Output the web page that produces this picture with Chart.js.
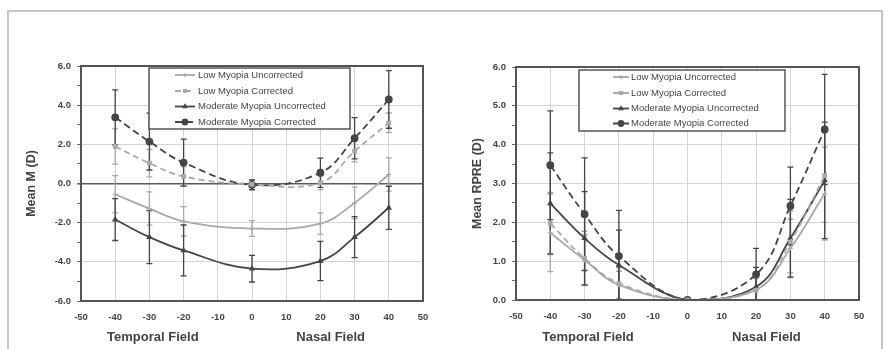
<!DOCTYPE html>
<html>
<head>
<meta charset="utf-8">
<script src="https://cdn.jsdelivr.net/npm/chart.js@4.4.1/dist/chart.umd.min.js"></script>
<style>
  html, body { margin: 0; padding: 0; background: #fff; }
  #page { position: relative; width: 887px; height: 349px; overflow: hidden; }
  #frame { position: absolute; left: 7px; top: 10px; width: 876px; height: 360px; border: 2px solid #c6c6c6; box-sizing: border-box; }
  .box { position: absolute; top: 0; height: 349px; }
</style>
</head>
<body>
<div id="page">
  <div id="frame"></div>
  <div class="box" style="left:0;width:445px"><canvas id="m_chart"></canvas></div>
  <div class="box" style="left:445px;width:442px"><canvas id="rpre_chart"></canvas></div>
</div>
<script>
// field angle (deg), temporal negative / nasal positive
const fieldAngles = [-40, -30, -20, 0, 20, 30, 40];
const xRange = [-50, 50];
const seriesLabels = [
  "Low Myopia Uncorrected",
  "Low Myopia Corrected",
  "Moderate Myopia Uncorrected",
  "Moderate Myopia Corrected",
];
const fieldLabels = ["Temporal Field", "Nasal Field"];
const fieldLabelAt = [-29, 23];

// left panel : Mean M (D)
const mLowUnc = [-0.55, -1.28, -1.93, -2.3, -2.05, -0.99, 0.46];
const mLowUncSd = [0.95, 0.85, 0.75, 0.4, 0.55, 0.8, 0.85];
const mLowCor = [1.89, 1.04, 0.36, -0.05, 0.04, 1.65, 3.1];
const mLowCorSd = [0.9, 0.7, 0.5, 0.25, 0.35, 0.55, 0.5];
const mModUnc = [-1.84, -2.74, -3.42, -4.35, -3.96, -2.74, -1.24];
const mModUncSd = [1.07, 1.35, 1.3, 0.68, 1.0, 1.05, 1.1];
const mModCor = [3.38, 2.14, 1.07, -0.07, 0.55, 2.31, 4.29];
const mModCorSd = [1.4, 1.45, 1.2, 0.25, 0.75, 1.05, 1.47];

// right panel : Mean RPRE (D)
const rLowUnc = [1.73, 1.03, 0.39, 0, 0.26, 1.33, 2.74];
const rLowUncSd = [1.0, 0.65, 0.35, 0, 0.3, 0.75, 1.2];
const rLowCor = [1.97, 1.07, 0.43, 0, 0.25, 1.5, 3.2];
const rLowCorSd = [0.8, 0.7, 0.4, 0, 0.3, 0.8, 1.2];
const rModUnc = [2.49, 1.59, 0.9, 0, 0.34, 1.59, 3.08];
const rModUncSd = [1.3, 1.2, 0.9, 0, 0.5, 1.0, 1.5];
const rModCor = [3.47, 2.21, 1.13, 0, 0.66, 2.42, 4.39];
const rModCorSd = [1.4, 1.45, 1.18, 0, 0.67, 1.0, 1.42];

Chart.defaults.font.family = "'Liberation Sans', Arial, sans-serif";
Chart.defaults.color = "#444";

const seriesStyles = [
  { color: "#a9a9a9", dash: [], point: "cross", radius: 2.5 },
  { color: "#a9a9a9", dash: [6, 4], point: "rect", radius: 2.5 },
  { color: "#454545", dash: [], point: "triangle", radius: 2.5 },
  { color: "#454545", dash: [7, 4], point: "circle", radius: 3.3 },
];

const makeDatasets = (values, sds) =>
  values.map((vals, i) => ({
    label: seriesLabels[i],
    data: vals.map((v, j) => ({ x: fieldAngles[j], y: v })),
    sd: sds[i],
    borderColor: seriesStyles[i].color,
    backgroundColor: seriesStyles[i].color,
    borderDash: seriesStyles[i].dash,
    borderWidth: 1.8,
    pointStyle: seriesStyles[i].point,
    pointRadius: seriesStyles[i].radius,
    pointBorderWidth: 1.2,
    tension: 0.4,
  }));

const errorBars = {
  id: "errorBars",
  beforeDatasetsDraw(chart) {
    const { ctx, chartArea: a, scales } = chart;
    ctx.save();
    ctx.beginPath();
    ctx.rect(a.left, a.top, a.right - a.left, a.bottom - a.top);
    ctx.clip();
    chart.data.datasets.forEach((ds) => {
      ctx.strokeStyle = ds.borderColor;
      ctx.lineWidth = 1.3;
      ctx.setLineDash([]);
      ds.data.forEach((p, i) => {
        const s = ds.sd[i];
        if (!s) return;
        const px = scales.x.getPixelForValue(p.x);
        const top = scales.y.getPixelForValue(p.y + s);
        const bot = scales.y.getPixelForValue(p.y - s);
        ctx.beginPath();
        ctx.moveTo(px, top);
        ctx.lineTo(px, bot);
        ctx.moveTo(px - 3, top);
        ctx.lineTo(px + 3, top);
        ctx.moveTo(px - 3, bot);
        ctx.lineTo(px + 3, bot);
        ctx.stroke();
      });
    });
    ctx.restore();
  },
};

const decorations = {
  id: "decorations",
  afterDraw(chart, args, opts) {
    const { ctx, chartArea: a, scales } = chart;
    ctx.save();
    // plot frame
    ctx.strokeStyle = "#555";
    ctx.lineWidth = 2;
    ctx.setLineDash([]);
    ctx.strokeRect(a.left, a.top, a.right - a.left, a.bottom - a.top);

    // legend box
    const L = opts.legend;
    ctx.fillStyle = "#fff";
    ctx.fillRect(L.x, L.y, L.w, L.h);
    ctx.lineWidth = 1.5;
    ctx.strokeStyle = "#555";
    ctx.strokeRect(L.x, L.y, L.w, L.h);
    ctx.font = "9.5px 'Liberation Sans', Arial, sans-serif";
    ctx.textBaseline = "middle";
    ctx.textAlign = "left";
    chart.data.datasets.forEach((ds, i) => {
      const ry = L.rows[i];
      ctx.strokeStyle = ds.borderColor;
      ctx.fillStyle = ds.borderColor;
      ctx.lineWidth = 1.8;
      ctx.setLineDash(ds.borderDash);
      ctx.beginPath();
      ctx.moveTo(L.x0, ry);
      ctx.lineTo(L.x1, ry);
      ctx.stroke();
      ctx.setLineDash([]);
      ctx.lineWidth = 1.2;
      Chart.helpers.drawPoint(ctx, { pointStyle: ds.pointStyle, radius: ds.pointRadius * 0.85, rotation: 0, borderWidth: 1.2 }, (L.x0 + L.x1) / 2, ry);
      ctx.fillStyle = "#444";
      ctx.fillText(ds.label, L.tx, ry);
    });

    // field captions under the axis
    ctx.font = "bold 13px 'Liberation Sans', Arial, sans-serif";
    ctx.fillStyle = "#444";
    ctx.textAlign = "center";
    fieldLabels.forEach((t, i) => {
      ctx.fillText(t, scales.x.getPixelForValue(fieldLabelAt[i]), opts.captionY);
    });
    ctx.restore();
  },
};

const makeChart = (id, cfg) =>
  new Chart(document.getElementById(id), {
    type: "line",
    data: { datasets: makeDatasets(cfg.values, cfg.sds) },
    plugins: [errorBars, decorations],
    options: {
      responsive: true,
      maintainAspectRatio: false,
      animation: false,
      layout: { padding: { left: 0, right: cfg.padRight, top: cfg.padTop, bottom: 0 } },
      scales: {
        x: {
          type: "linear",
          min: xRange[0],
          max: xRange[1],
          afterFit: (s) => { s.height = cfg.xHeight; },
          ticks: { stepSize: 10, padding: 11, color: "#444", font: { size: 9.5, weight: "bold" } },
          grid: { color: "#d4d4d4", drawTicks: false },
          border: { display: false },
        },
        y: {
          min: cfg.yMin,
          max: cfg.yMax,
          afterFit: (s) => { s.width = cfg.yWidth; },
          ticks: {
            stepSize: cfg.yStep,
            padding: 6,
            color: "#444",
            font: { size: 9.5, weight: "bold" },
            callback: (v) => (cfg.isMajor(v) ? v.toFixed(1) : ""),
          },
          grid: {
            color: (c) => (cfg.zeroLine && c.tick.value === 0 ? "#5a5a5a" : cfg.isMajor(c.tick.value) ? "#d4d4d4" : "rgba(0,0,0,0)"),
            lineWidth: (c) => (cfg.zeroLine && c.tick.value === 0 ? 1.6 : 1),
            tickColor: "#666",
            tickLength: 4,
          },
          border: { display: false },
          title: {
            display: true,
            text: cfg.title,
            color: "#444",
            font: { size: 12.5, weight: "bold" },
            padding: { top: cfg.titlePad, bottom: 0 },
          },
        },
      },
      plugins: {
        legend: { display: false },
        tooltip: { enabled: false },
        decorations: { legend: cfg.legend, captionY: 337 },
      },
    },
  });

makeChart("m_chart", {
  values: [mLowUnc, mLowCor, mModUnc, mModCor],
  sds: [mLowUncSd, mLowCorSd, mModUncSd, mModCorSd],
  yMin: -6, yMax: 6, yStep: 1,
  isMajor: (v) => Math.abs(v % 2) < 1e-6,
  zeroLine: true,
  title: "Mean M (D)", titlePad: 24,
  padRight: 22, padTop: 66, yWidth: 81, xHeight: 48,
  legend: { x: 149, y: 68, w: 201, h: 61, x0: 175, x1: 195, tx: 198, rows: [75, 91, 106.5, 122] },
});

makeChart("rpre_chart", {
  values: [rLowUnc, rLowCor, rModUnc, rModCor],
  sds: [rLowUncSd, rLowCorSd, rModUncSd, rModCorSd],
  yMin: 0, yMax: 6, yStep: 0.5,
  isMajor: (v) => Math.abs(v - Math.round(v)) < 1e-6,
  zeroLine: false,
  title: "Mean RPRE (D)", titlePad: 25,
  padRight: 28, padTop: 67, yWidth: 71, xHeight: 49,
  legend: { x: 134, y: 70, w: 206, h: 61, x0: 168, x1: 184, tx: 186, rows: [77, 93, 108.5, 123.5] },
});
</script>
</body>
</html>
